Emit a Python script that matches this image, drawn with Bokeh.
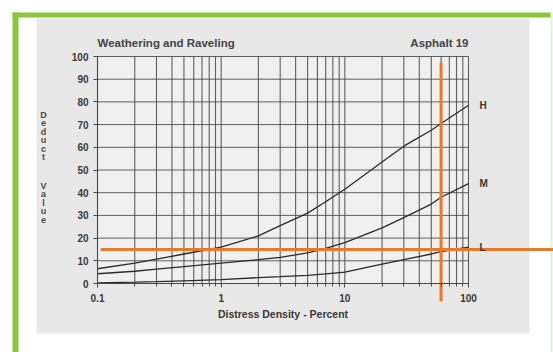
from bokeh.plotting import figure
from bokeh.models import Range1d, FixedTicker, CustomJSTickFormatter, BoxAnnotation, Label
from bokeh.embed import file_html
from bokeh.resources import INLINE

# ---- data ----
density = [0.1, 0.2, 0.3, 0.5, 1, 2, 3, 5, 7, 10, 20, 30, 50, 60, 100]
deduct_H = [6.5, 9.0, 10.7, 13.0, 16.0, 21.0, 25.5, 31.0, 36.0, 41.5, 53.5, 60.5, 67.5, 70.5, 78.5]
deduct_M = [4.3, 5.4, 6.3, 7.4, 9.0, 10.5, 11.5, 13.5, 15.5, 18.0, 24.5, 29.0, 35.0, 38.0, 44.0]
deduct_L = [0.3, 0.6, 0.8, 1.2, 1.7, 2.6, 3.0, 3.6, 4.2, 5.0, 8.5, 10.5, 13.0, 14.0, 16.0]
severity = ["H", "M", "L"]
x_major = [0.1, 1, 10, 100]
x_minor = [round(m * 10 ** e, 3) for e in (-1, 0, 1) for m in range(2, 10)]
y_ticks = list(range(0, 101, 10))
read_density = 60
read_deduct = 15

W, H = 553, 352
# plot-area placement in pixels: 0.1 -> 97, 100 -> 468, y 100 -> 56, y 0 -> 283
PXL, PXR, PYT, PYB = 97, 468, 56, 283
DEC = (PXR - PXL) / 3.0
PPU = (PYB - PYT) / 100.0

def dx(px):
    return 10 ** (-1 + (px - PXL) / DEC)

def dy(py):
    return (PYB - py) / PPU

GRID = "#474747"
TXT = "#383838"
FONT = "Liberation Sans"
GREEN = "#8cc63f"

p = figure(width=W, height=H, x_axis_type="log",
           x_range=Range1d(dx(0), dx(W)), y_range=Range1d(dy(H), dy(0)),
           output_backend="svg", toolbar_location=None,
           min_border=0, border_fill_color="white", background_fill_color="white",
           outline_line_color=None)
p.xgrid.visible = False
p.ygrid.visible = False

# scanned page background
p.add_layout(BoxAnnotation(left=dx(36), right=dx(529), top=dy(18), bottom=dy(333),
                           fill_color="#e8e8e8", fill_alpha=1, line_alpha=0, level="image"))
p.add_layout(BoxAnnotation(left=0.1, right=100, top=100, bottom=0,
                           fill_color="#f0f0f0", fill_alpha=1, line_alpha=0, level="image"))

# grid drawn over the plot area only
all_x = x_major + x_minor
p.segment(x0=all_x, y0=[0] * len(all_x), x1=all_x, y1=[100] * len(all_x),
          line_color=GRID, line_width=1.1, line_alpha=0.85)
p.segment(x0=[0.1] * len(y_ticks), y0=y_ticks, x1=[100] * len(y_ticks), y1=y_ticks,
          line_color=GRID, line_width=1, line_alpha=0.85)

# axes fixed at the plot-area edges
p.xaxis.fixed_location = 0
p.xaxis.bounds = (0.1, 100)
p.yaxis.fixed_location = 0.1
p.yaxis.bounds = (0, 100)
p.xaxis.ticker = FixedTicker(ticks=x_major, minor_ticks=x_minor)
p.xaxis.formatter = CustomJSTickFormatter(code="return tick.toString()")
p.yaxis.ticker = FixedTicker(ticks=y_ticks)
for ax in (p.xaxis[0], p.yaxis[0]):
    ax.axis_line_color = GRID
    ax.major_tick_line_color = GRID
    ax.minor_tick_line_color = GRID
    ax.major_tick_in = 0
    ax.minor_tick_in = 0
    ax.major_tick_out = 4
    ax.minor_tick_out = 3
    ax.major_label_text_font = FONT
    ax.major_label_text_font_size = "10px"
    ax.major_label_text_font_style = "bold"
    ax.major_label_text_color = TXT
p.xaxis.major_label_standoff = 6
p.yaxis.major_label_standoff = 5
p.yaxis.minor_tick_line_color = None
p.xaxis.axis_label = "Distress Density - Percent"
p.xaxis.axis_label_text_font = FONT
p.xaxis.axis_label_text_font_size = "10.5px"
p.xaxis.axis_label_text_font_style = "bold"
p.xaxis.axis_label_text_color = TXT
p.xaxis.axis_label_standoff = 3

# curves
for ys in (deduct_H, deduct_M, deduct_L):
    p.line(density, ys, line_color="#2b2b2b", line_width=1.3)

for s, ys in zip(severity, (deduct_H, deduct_M, deduct_L)):
    p.add_layout(Label(x=density[-1], y=ys[-1], text=s, x_offset=11,
                       text_align="left", text_baseline="middle",
                       text_font=FONT, text_font_size="10px", text_font_style="bold",
                       text_color=TXT))

# reading lines (orange)
ORANGE = "#e87a2c"
p.segment(x0=[0.106], y0=[read_deduct], x1=[dx(W + 5)], y1=[read_deduct],
          line_color=ORANGE, line_width=3)
p.segment(x0=[read_density], y0=[dy(301)], x1=[read_density], y1=[dy(62)],
          line_color=ORANGE, line_width=3)

# titles
p.add_layout(Label(x=0.1, y=dy(42), text="Weathering and Raveling", text_align="left",
                   text_baseline="middle", text_font=FONT, text_font_size="11.5px",
                   text_font_style="bold", text_color="#444444"))
p.add_layout(Label(x=100, y=dy(42), text="Asphalt 19", text_align="right",
                   text_baseline="middle", text_font=FONT, text_font_size="11.5px",
                   text_font_style="bold", text_color="#444444"))

# stacked y-axis title
for word, top in (("Deduct", 109), ("Value", 180)):
    p.add_layout(Label(x=dx(43), y=dy(top), text="\n".join(word),
                       text_align="center", text_baseline="top", text_line_height=0.85,
                       text_font=FONT, text_font_size="9px", text_font_style="bold",
                       text_color="#4a4a4a"))

# green frame of the page (left and top bars, faint right edge)
p.add_layout(BoxAnnotation(left=dx(12), right=dx(18), top=dy(12), bottom=dy(H),
                           fill_color=GREEN, fill_alpha=1, line_alpha=0, level="overlay"))
p.add_layout(BoxAnnotation(left=dx(12), right=dx(550), top=dy(12), bottom=dy(17),
                           fill_color=GREEN, fill_alpha=1, line_alpha=0, level="overlay"))
p.add_layout(BoxAnnotation(left=dx(550), right=dx(552), top=dy(12), bottom=dy(H),
                           fill_color=GREEN, fill_alpha=0.25, line_alpha=0, level="overlay"))

open("out.html", "w").write(file_html(p, INLINE))
